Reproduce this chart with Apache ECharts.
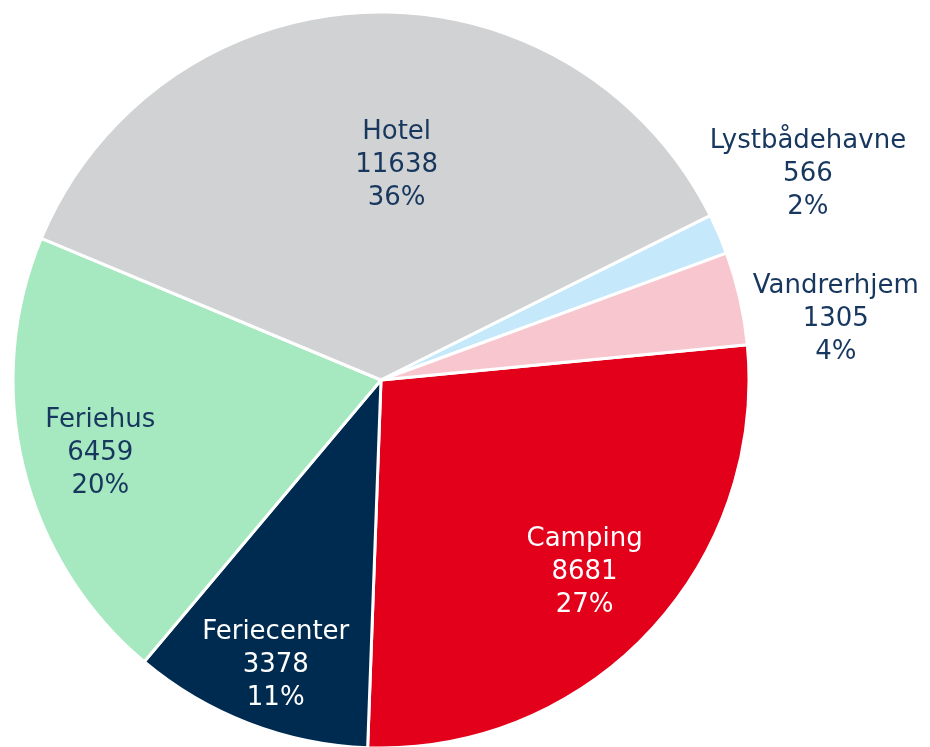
<!DOCTYPE html>
<html>
<head>
<meta charset="utf-8">
<script src="https://cdn.jsdelivr.net/npm/echarts@6/dist/echarts.min.js"></script>
<style>
  html, body { margin: 0; padding: 0; background: #fff; }
  #chart { width: 930px; height: 747px; }
</style>
</head>
<body>
<div id="chart"></div>
<script>
// data, clockwise from about 3 o'clock
const categories = ['Camping', 'Feriecenter', 'Feriehus', 'Hotel', 'Lystbådehavne', 'Vandrerhjem'];
const values = [8681, 3378, 6459, 11638, 566, 1305];

const colors = ['#E3001B', '#002B50', '#A6E9C0', '#D0D2D3', '#C5E8FA', '#F8C6CE'];
const labelColors = ['#fff', '#fff', '#17375E', '#17375E', '#17375E', '#17375E'];

// where each label sits: [radius as fraction of R, angle shift in degrees]
const labelSpot = {
  Camping: [0.76, 0],
  Feriecenter: [0.826, 0.8],
  Feriehus: [0.788, 0.9],
  Hotel: [0.586, -6.1],
  'Lystbådehavne': [1.288, 2.4],
  Vandrerhjem: [1.247, -5.2],
};

const CX = 381, CY = 380, R = 368;

const chart = echarts.init(document.getElementById('chart'));

chart.setOption({
  animation: false,
  series: [{
    type: 'pie',
    center: [CX, CY],
    radius: [0, R],
    startAngle: 5.5,
    clockwise: true,
    percentPrecision: 0,
    avoidLabelOverlap: false,
    itemStyle: {
      borderColor: '#fff',
      borderWidth: 3,
    },
    label: {
      show: true,
      position: 'inside',
      formatter: '{b}\n{c}\n{d}%',
      fontFamily: 'DejaVu Sans',
      fontSize: 26,
      lineHeight: 33,
      align: 'center',
    },
    labelLine: { show: false },
    emphasis: { disabled: true },
    labelLayout: function (p) {
      const name = categories[p.dataIndex];
      const spot = labelSpot[name];
      const lx = p.labelRect.x + p.labelRect.width / 2;
      const ly = p.labelRect.y + p.labelRect.height / 2;
      let ang = Math.atan2(-(ly - CY), lx - CX) + spot[1] * Math.PI / 180;
      const tx = CX + Math.cos(ang) * R * spot[0];
      const ty = CY - Math.sin(ang) * R * spot[0];
      return { dx: tx - lx, dy: ty - ly };
    },
    data: categories.map((c, i) => ({
      name: c,
      value: values[i],
      itemStyle: { color: colors[i] },
      label: { color: labelColors[i] },
    })),
  }],
});
</script>
</body>
</html>
